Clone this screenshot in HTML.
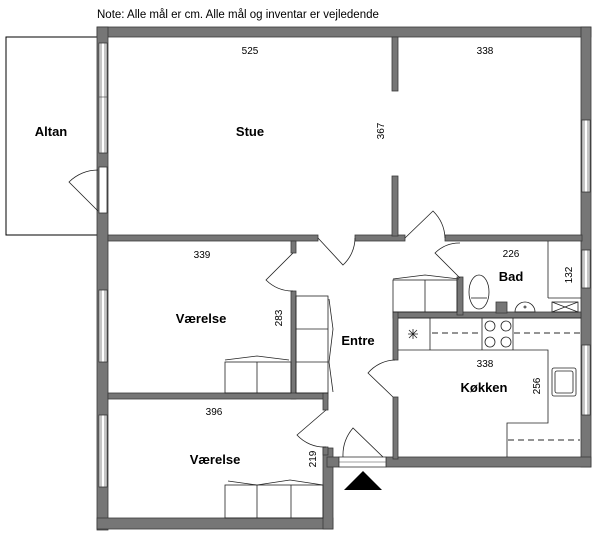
<!DOCTYPE html>
<html><head><meta charset="utf-8"><style>
html,body{margin:0;padding:0;background:#fff;}
svg{display:block;}
text{font-family:"Liberation Sans",sans-serif;fill:#000;}
.b{font-weight:bold;font-size:13px;}
.d{font-size:10px;}
</style></head><body>
<svg width="600" height="533" viewBox="0 0 600 533" xmlns="http://www.w3.org/2000/svg">
<text x="97" y="18" font-size="11.5">Note: Alle mål er cm. Alle mål og inventar er vejledende</text>
<!-- Altan -->
<rect x="6" y="37" width="92" height="198" fill="#fff" stroke="#000" stroke-width="1"/>
<g fill="#767676" stroke="#3a3a3a" stroke-width="0.8">
<!-- outer walls -->
<rect x="97" y="27" width="494" height="10"/>
<rect x="97" y="27" width="11" height="503"/>
<rect x="581" y="27" width="10" height="440"/>
<rect x="97" y="518" width="236" height="11"/>
<rect x="323" y="448" width="10" height="81"/>
<rect x="327" y="457" width="12" height="10"/>
<rect x="386" y="457" width="205" height="10"/>
<!-- interior -->
<rect x="108" y="235" width="210" height="6"/>
<rect x="355" y="235" width="50" height="6"/>
<rect x="445" y="235" width="137" height="6"/>
<rect x="392" y="37" width="6" height="54"/>
<rect x="392" y="176" width="6" height="60"/>
<rect x="291" y="241" width="5" height="12"/>
<rect x="291" y="291" width="5" height="108"/>
<rect x="108" y="393" width="220" height="6"/>
<rect x="323" y="393" width="5" height="17"/>
<rect x="323" y="447" width="5" height="8"/>
<rect x="393" y="312" width="188" height="6"/>
<rect x="393" y="312" width="5" height="48"/>
<rect x="393" y="397" width="5" height="62"/>
<rect x="457" y="277" width="6" height="38"/>
<rect x="496" y="302" width="11" height="11"/>
</g>
<!-- openings -->
<g fill="#fff" stroke="#333" stroke-width="0.8">
<rect x="99" y="43" width="8" height="110"/>
<rect x="99" y="167" width="8" height="46"/>
<rect x="99" y="290" width="8" height="72"/>
<rect x="99" y="415" width="8" height="72"/>
<rect x="582" y="120" width="8" height="72"/>
<rect x="582" y="250" width="8" height="38"/>
<rect x="582" y="345" width="8" height="70"/>
<rect x="339" y="457" width="47" height="10"/>
</g>
<g fill="none" stroke="#444" stroke-width="0.6">
<line x1="101" y1="43" x2="101" y2="153"/><line x1="105" y1="43" x2="105" y2="153"/><line x1="99" y1="97" x2="107" y2="97"/>
<line x1="101" y1="290" x2="101" y2="362"/><line x1="105" y1="290" x2="105" y2="362"/>
<line x1="101" y1="415" x2="101" y2="487"/><line x1="105" y1="415" x2="105" y2="487"/>
<line x1="584" y1="120" x2="584" y2="192"/><line x1="588" y1="120" x2="588" y2="192"/>
<line x1="584" y1="250" x2="584" y2="288"/><line x1="588" y1="250" x2="588" y2="288"/>
<line x1="584" y1="345" x2="584" y2="415"/><line x1="588" y1="345" x2="588" y2="415"/>
<line x1="339" y1="462" x2="386" y2="462"/>
</g>
<!-- doors -->
<g fill="none" stroke="#222" stroke-width="0.8">
<path d="M98 211 L69 182 A41 41 0 0 1 98 170"/>
<path d="M318 238 L343 265 A37 37 0 0 0 355 238"/>
<path d="M405 238 L433 211 A40 40 0 0 1 445 238"/>
<path d="M460 278 L435 253 A35 35 0 0 1 460 243"/>
<path d="M293 253 L266 280 A38 38 0 0 0 293 291"/>
<path d="M393 397 L368 373 A37 37 0 0 1 395 360"/>
<path d="M326 410 L297 435 A37 37 0 0 0 326 447"/>
<path d="M383 457 L353 428 A42 42 0 0 0 343 457"/>
</g>
<!-- furniture -->
<g fill="none" stroke="#222" stroke-width="0.8">
<rect x="296" y="296" width="32" height="97"/><line x1="296" y1="329" x2="328" y2="329"/><line x1="296" y1="362" x2="328" y2="362"/>
<path d="M329 299 L333 329 L329 362 L333 392"/>
<rect x="225" y="362" width="66" height="31"/><line x1="257" y1="362" x2="257" y2="393"/>
<path d="M225 360 L257 356 L289 360"/>
<rect x="225" y="485" width="98" height="33"/><line x1="257" y1="485" x2="257" y2="518"/><line x1="291" y1="485" x2="291" y2="518"/>
<path d="M228 481 L257 485 L290 480 L323 485"/>
<rect x="393" y="280" width="64" height="32"/><line x1="425" y1="280" x2="425" y2="312"/>
<path d="M393 279 L425 275 L459 279"/>
<!-- bad -->
<line x1="548" y1="241" x2="548" y2="298"/><line x1="548" y1="298" x2="581" y2="298"/>
<rect x="552" y="302" width="26" height="10"/><line x1="552" y1="302" x2="578" y2="312"/><line x1="552" y1="312" x2="578" y2="302"/>
<ellipse cx="479" cy="292" rx="10" ry="17"/><line x1="471" y1="298" x2="487" y2="298"/>
<path d="M515 312 A10 10 0 1 1 535 312 Z"/><circle cx="525" cy="307" r="1"/>
<!-- kitchen -->
<path d="M398 318 H581 M398 350 H548 V423 H507 V457"/>
<line x1="430" y1="318" x2="430" y2="350"/><line x1="482" y1="318" x2="482" y2="350"/><line x1="513" y1="318" x2="513" y2="350"/>
<circle cx="490" cy="326" r="5"/><circle cx="506" cy="326" r="5"/><circle cx="490" cy="342" r="5"/><circle cx="506" cy="342" r="5"/>
<path d="M408 334 H418 M413 329 V339 M409 330 L417 338 M417 330 L409 338"/>
<rect x="552" y="368" width="24" height="28" rx="2"/><rect x="555" y="371" width="18" height="22" rx="2"/>
</g>
<g stroke="#555" stroke-width="1.2" stroke-dasharray="6,4">
<line x1="432" y1="333" x2="481" y2="333"/><line x1="514" y1="333" x2="580" y2="333"/>
<line x1="508" y1="440" x2="580" y2="440"/>
</g>
<polygon points="363,471 344,490 382,490" fill="#000"/>
<!-- labels -->
<g text-anchor="middle">
<text class="b" x="51" y="136">Altan</text>
<text class="b" x="250" y="136">Stue</text>
<text class="d" x="250" y="54">525</text>
<text class="d" x="485" y="54">338</text>
<text class="d" x="202" y="258">339</text>
<text class="b" x="201" y="323">Værelse</text>
<text class="b" x="358" y="345">Entre</text>
<text class="d" x="511" y="257">226</text>
<text class="b" x="511" y="281">Bad</text>
<text class="d" x="485" y="367">338</text>
<text class="b" x="484" y="392">Køkken</text>
<text class="d" x="214" y="415">396</text>
<text class="b" x="215" y="464">Værelse</text>
<text class="d" transform="translate(384,131) rotate(-90)">367</text>
<text class="d" transform="translate(282,318) rotate(-90)">283</text>
<text class="d" transform="translate(572,275) rotate(-90)">132</text>
<text class="d" transform="translate(540,386) rotate(-90)">256</text>
<text class="d" transform="translate(316,459) rotate(-90)">219</text>
</g>
</svg>
</body></html>
